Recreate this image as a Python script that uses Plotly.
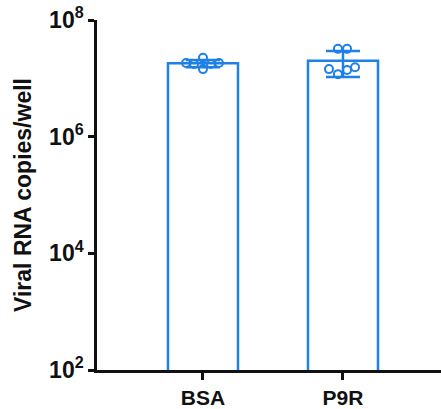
import plotly.graph_objects as go
import numpy as np

categories = ["BSA", "P9R"]
bsa_values = [1.83e7, 1.76e7, 2.25e7, 1.44e7, 1.76e7, 1.83e7]
p9r_values = [3.2e7, 3.2e7, 1.44e7, 1.18e7, 1.39e7, 1.55e7]
ytick_vals = [1e2, 1e4, 1e6, 1e8]
ytick_text = ["10<sup>2</sup>", "10<sup>4</sup>", "10<sup>6</sup>", "10<sup>8</sup>"]

# horizontal scatter offsets of the individual points (style)
bsa_jitter = [-0.121, -0.064, 0.0, 0.0, 0.057, 0.114]
p9r_jitter = [-0.036, 0.029, -0.1, -0.036, 0.029, 0.086]

BLUE = "#1f80e6"
FONT = "Liberation Sans, Arial, sans-serif"

groups = [bsa_values, p9r_values]
means = [float(np.mean(g)) for g in groups]
sds = [float(np.std(g, ddof=1)) for g in groups]
xpos = list(range(len(categories)))

fig = go.Figure()
fig.add_trace(go.Bar(
    x=xpos, y=means, width=0.5,
    marker=dict(color="white", line=dict(color=BLUE, width=2.5)),
    error_y=dict(type="data", array=sds, visible=True, color=BLUE, thickness=2.5, width=17),
    showlegend=False,
))
for i, (vals, jit) in enumerate(zip(groups, [bsa_jitter, p9r_jitter])):
    fig.add_trace(go.Scatter(
        x=[i + j for j in jit], y=vals, mode="markers",
        marker=dict(symbol="circle-open", size=8, color=BLUE, line=dict(width=2, color=BLUE)),
        showlegend=False,
    ))

fig.update_layout(
    width=441, height=409,
    margin=dict(l=97, r=0, t=20, b=39),
    plot_bgcolor="white", paper_bgcolor="white",
    font=dict(family=FONT, color="#111"),
    xaxis=dict(
        range=[-0.757, 1.7], tickvals=xpos, ticktext=categories,
        showline=True, linecolor="#111", linewidth=2.5,
        ticks="outside", ticklen=7, tickwidth=2.5, tickcolor="#111",
        tickfont=dict(size=21, weight="bold", family=FONT, color="#111"),
        showgrid=False, zeroline=False,
    ),
    yaxis=dict(
        type="log", range=[2, 8], tickvals=ytick_vals, ticktext=ytick_text,
        showline=True, linecolor="#111", linewidth=2.5,
        ticks="outside", ticklen=6, tickwidth=2.5, tickcolor="#111",
        tickfont=dict(size=23, weight="bold", family=FONT, color="#111"),
        showgrid=False, zeroline=False,
        title=dict(text="Viral RNA copies/well", font=dict(size=23, weight="bold", family=FONT, color="#111"), standoff=12),
    ),
)
fig.write_html("out.html")
